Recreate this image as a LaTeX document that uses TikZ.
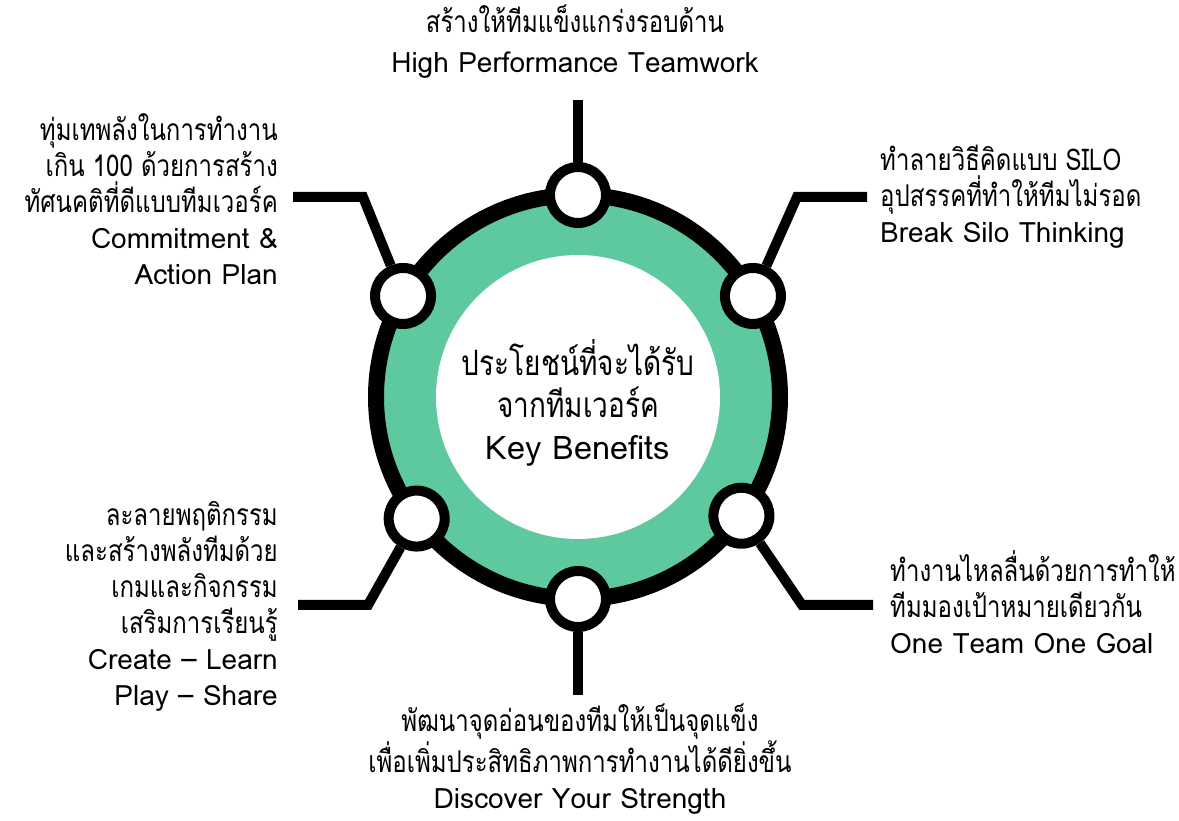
\documentclass[tikz,border=0pt]{standalone}
\usepackage{fontspec}
\newfontfamily\thaifont[Script=Thai]{Loma}
\newfontfamily\thaicond[Script=Thai,FakeStretch=0.8]{Loma}
\usetikzlibrary{calc}
\definecolor{ringgreen}{HTML}{5EC89E}

\begin{document}
\begin{tikzpicture}[x=1pt,y=1pt,every node/.style={font=\thaifont\fontsize{28}{36}\selectfont,inner sep=0pt},joint/.style={circle,draw,fill=white,line width=10pt,minimum size=56pt},link/.style={line width=10pt},benefit/.style={align=center}]
\useasboundingbox (0,0) rectangle (1179,821);
\coordinate (hub) at (578,424);
\draw[line width=16pt,fill=ringgreen] (hub) circle[radius=202pt];
\fill[white] (hub) circle[radius=142pt];

\node[joint] (top) at ($(hub)+(90:202pt)$) {};
\node[joint] (ur) at ($(hub)+(30:202pt)$) {};
\node[joint] (ul) at ($(hub)+(150:202pt)$) {};
\node[joint] (ll) at ($(hub)+(217:202pt)$) {};
\node[joint] (lr) at ($(hub)+(324:202pt)$) {};
\node[joint] (bot) at ($(hub)+(270:202pt)$) {};

\coordinate (topend) at (578,721);
\coordinate (botend) at (578,126);
\coordinate (ulbend) at (363,624);
\coordinate (ulend) at (293,624);
\coordinate (urbend) at (797,624);
\coordinate (urend) at (867,624);
\coordinate (llbend) at (368,216);
\coordinate (llend) at (298,216);
\coordinate (lrbend) at (802,216);
\coordinate (lrend) at (873,216);
\draw[link] (top) -- (topend);
\draw[link] (bot) -- (botend);
\draw[link] (ul) -- (ulbend) -- (ulend);
\draw[link] (ur) -- (urbend) -- (urend);
\draw[link] (ll) -- (llbend) -- (llend);
\draw[link] (lr) -- (lrbend) -- (lrend);

\node[benefit,font=\thaifont\fontsize{28}{40}\selectfont] (toptext) at (575,779) {{\thaicond\fontsize{30}{40}\selectfont สร้างให้ทีมแข็งแกร่งรอบด้าน}\\High Performance Teamwork};
\node[benefit,align=right,anchor=east] (ultext) at (278,622) {{\thaicond\fontsize{30}{36}\selectfont ทุ่มเทพลังในการทำงาน}\\{\thaicond\fontsize{30}{36}\selectfont เกิน 100 ด้วยการสร้าง}\\{\thaicond\fontsize{30}{36}\selectfont ทัศนคติที่ดีแบบทีมเวอร์ค}\\Commitment \&\\Action Plan};
\node[benefit,align=left,anchor=west] (urtext) at (880,624) {{\thaicond\fontsize{30}{36}\selectfont ทำลายวิธีคิดแบบ SILO}\\{\thaicond\fontsize{30}{36}\selectfont อุปสรรคที่ทำให้ทีมไม่รอด}\\Break Silo Thinking};
\node[benefit,font=\thaifont\fontsize{32.5}{42}\selectfont] (hubtext) at (578,418) {{\thaicond\fontsize{35}{42}\selectfont ประโยชน์ที่จะได้รับ}\\{\thaicond\fontsize{35}{42}\selectfont จากทีมเวอร์ค}\\Key Benefits};
\node[benefit,align=right,anchor=east] (lltext) at (278,215) {{\thaicond\fontsize{30}{36}\selectfont ละลายพฤติกรรม}\\{\thaicond\fontsize{30}{36}\selectfont และสร้างพลังทีมด้วย}\\{\thaicond\fontsize{30}{36}\selectfont เกมและกิจกรรม}\\{\thaicond\fontsize{30}{36}\selectfont เสริมการเรียนรู้}\\Create – Learn\\Play – Share};
\node[benefit,align=left,anchor=west] (lrtext) at (890,219) {{\thaicond\fontsize{30}{36}\selectfont ทำงานไหลลื่นด้วยการทำให้}\\{\thaicond\fontsize{30}{36}\selectfont ทีมมองเป้าหมายเดียวกัน}\\One Team One Goal};
\node[benefit] (bottext) at (580,62) {{\thaicond\fontsize{30}{36}\selectfont พัฒนาจุดอ่อนของทีมให้เป็นจุดแข็ง}\\{\thaicond\fontsize{30}{36}\selectfont เพื่อเพิ่มประสิทธิภาพการทำงานได้ดียิ่งขึ้น}\\Discover Your Strength};
\end{tikzpicture}
\end{document}
